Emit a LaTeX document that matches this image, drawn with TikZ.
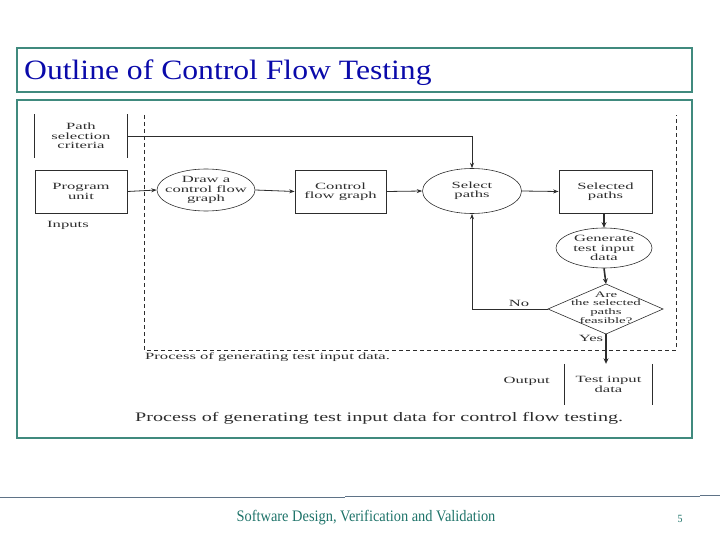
\documentclass[tikz,border=0pt]{standalone}
\usepackage{fontspec}
\setmainfont{Liberation Serif}
\usetikzlibrary{shapes.geometric,arrows.meta}
\newfontfamily\dfont[FakeStretch=1.75]{Liberation Serif}
\newfontfamily\capfont[FakeStretch=1.55]{Liberation Serif}
\newfontfamily\footfont[FakeStretch=0.9]{Liberation Serif}
\newfontfamily\titlefont[FakeStretch=1.13]{Liberation Serif}
\definecolor{frameteal}{RGB}{64,138,126}
\definecolor{titleblue}{RGB}{10,10,170}
\definecolor{footteal}{RGB}{30,115,105}
\definecolor{footline}{RGB}{95,115,135}
\definecolor{ink}{RGB}{45,45,45}
\tikzset{
  frameline/.style={draw=frameteal, line width=1.6pt},
  dtext/.style={font=\dfont\fontsize{9.5}{9.3}\selectfont, text=ink, align=center, inner sep=0pt},
  dbox/.style={dtext, draw=ink, line width=0.8pt, minimum width=92pt, minimum height=43pt},
  dell/.style={dtext, ellipse, draw=ink, line width=0.6pt, inner xsep=-9pt, inner ysep=-4pt},
  conn/.style={draw=ink, line width=0.8pt, -{Stealth[length=5.5pt,width=4pt]}},
  thickconn/.style={draw=ink, line width=1.6pt, -{Stealth[length=5.5pt,width=5pt]}},
  plain/.style={draw=ink, line width=0.8pt},
  dashbound/.style={draw=ink, line width=0.8pt, dash pattern=on 4pt off 3pt},
}
\begin{document}
\begin{tikzpicture}[x=1pt,y=-1pt]
\useasboundingbox (0,0) rectangle (720,540);
% title and content frames
\draw[frameline] (17,48) rectangle (692,92);
\node[anchor=base west, inner sep=0pt, text=titleblue, font=\titlefont\fontsize{28}{30}\selectfont] (title) at (24,80) {Outline of Control Flow Testing};
\draw[draw=frameteal, line width=1.2pt] (17,100) rectangle (692,438);

% dashed process boundary
\draw[dashbound] (144,115) -- (144,350) -- (676,350) -- (676,115);
\node[dtext, anchor=west] (proclabel) at (145,357) {Process of generating test input data.};

% inputs
\node[dtext, minimum width=92pt, minimum height=43pt] (psc) at (81,136) {Path\\selection\\criteria};
\draw[plain] (psc.north west) -- (psc.south west);
\draw[plain] (psc.north east) -- (psc.south east);
\node[dbox] (prog) at (81,191.5) {Program\\unit};
\node[dtext, anchor=west] (inputs) at (47,225) {Inputs};

% process nodes
\node[dell, minimum width=98pt, minimum height=42pt] (drawcfg) at (206,190) {Draw a\\control flow\\graph};
\node[dbox, minimum width=91pt] (cfg) at (340.5,191.5) {Control\\flow graph};
\node[dell, minimum width=99pt, minimum height=45pt] (sel) at (472,191) {Select\\paths};
\node[dbox, minimum width=93pt] (selp) at (605.5,191.5) {Selected\\paths};
\node[dell, minimum width=96pt, minimum height=40pt] (gen) at (604,248) {Generate\\test input\\data};

% decision diamond
\coordinate (dtop) at (606,284);
\coordinate (dright) at (663,309);
\coordinate (dbot) at (606,334);
\coordinate (dleft) at (548,309);
\draw[plain, line width=0.6pt] (dtop) -- (dright) -- (dbot) -- (dleft) -- cycle;
\node[dtext, font=\dfont\fontsize{8.5}{8.7}\selectfont] (feas) at (606,307.5) {Are\\the selected\\paths\\feasible?};
\node[dtext] (nolabel) at (519,303) {No};
\node[dtext] (yeslabel) at (591,338) {Yes};

% output
\node[dtext, minimum width=87pt, minimum height=41pt] (tid) at (608.5,384.5) {Test input\\data};
\draw[plain] (tid.north west) -- (tid.south west);
\draw[plain] (tid.north east) -- (tid.south east);
\node[dtext, anchor=east] (output) at (550,381) {Output};

% connectors
\draw[conn] (psc.east) -- (sel.north |- psc.east) -- (sel.north);
\draw[conn] (prog.east) -- (drawcfg.west);
\draw[conn] (drawcfg.east) -- (cfg.west);
\draw[conn] (cfg.east) -- (sel.west);
\draw[conn] (sel.east) -- (selp.west);
\draw[thickconn] (selp.south -| gen.north) -- (gen.north);
\draw[thickconn] (gen.south) -- (dtop);
\draw[conn] (dleft) -- (sel.south |- dleft) -- (sel.south);
\draw[thickconn] (dbot) -- (tid.north -| dbot);

% caption
\node[anchor=west, inner sep=0pt, text=ink, font=\capfont\fontsize{13}{15}\selectfont] (caption) at (135,418) {Process of generating test input data for control flow testing.};

% footer
\draw[draw=footline, line width=0.8pt] (0,497.5) -- (345,497.5);
\draw[draw=footline, line width=0.8pt] (345,496.5) -- (700,496.5);
\draw[draw=footline, line width=0.8pt] (700,495.5) -- (720,495.5);
\node[text=footteal, font=\footfont\fontsize{16}{18}\selectfont] (footer) at (366,518) {Software Design, Verification and Validation};
\node[text=footteal, font=\footfont\fontsize{11}{12}\selectfont] (pagenum) at (680,519) {5};
\end{tikzpicture}
\end{document}
